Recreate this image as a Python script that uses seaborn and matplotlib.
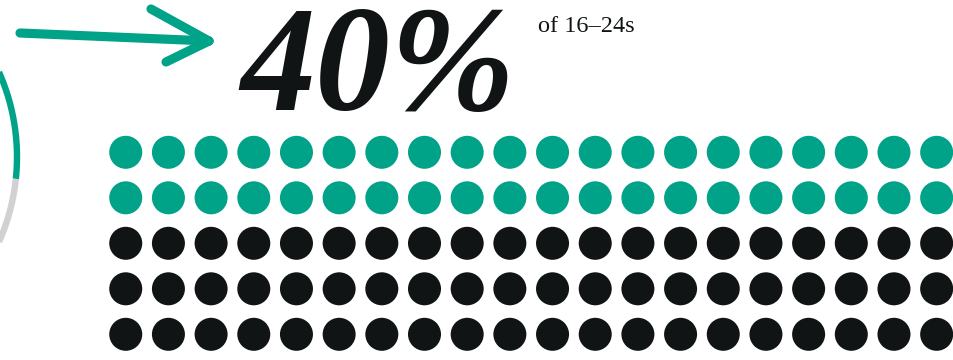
import numpy as np
import pandas as pd
import matplotlib
matplotlib.use("Agg")
import matplotlib.pyplot as plt
import seaborn as sns

# data
big_label = "40%"
sub_label = "of 16–24s"
groups = ["yes", "no"]
counts = [40, 60]
n_cols = 20
n_rows = 5
colors = {"yes": "#00a388", "no": "#111415"}
ring_colors = ["#00a388", "#d1d1d3"]

# waffle cells, filled row by row
cat = []
for g, c in zip(groups, counts):
    cat += [g] * c
df = pd.DataFrame({
    "col": [i % n_cols for i in range(len(cat))],
    "row": [i // n_cols for i in range(len(cat))],
    "group": cat,
})

sns.set_style("white")
fig = plt.figure(figsize=(9.54, 3.6), dpi=100)

# waffle axes
ax = fig.add_axes([104.4 / 954, 2.95 / 360, 853.6 / 954, 227.5 / 360])
sns.scatterplot(data=df, x="col", y="row", hue="group", palette=colors,
                s=565, linewidth=0, legend=False, ax=ax)
ax.set_xlim(-0.5, n_cols - 0.5)
ax.set_ylim(n_rows - 0.5, -0.5)
ax.axis("off")

# overlay in pixel coords for the decorations
ov = fig.add_axes([0, 0, 1, 1], zorder=-1)
ov.set_xlim(0, 954)
ov.set_ylim(360, 0)
ov.axis("off")

# ring segment on the left
cx, cy, R = -192, 157, 209
t1 = np.radians(np.linspace(-6, 70, 200))
t2 = np.radians(np.linspace(-70, -6, 200))
ov.plot(cx + R * np.cos(t1), cy - R * np.sin(t1), color=ring_colors[0], lw=4.6, solid_capstyle="butt")
ov.plot(cx + R * np.cos(t2), cy - R * np.sin(t2), color=ring_colors[1], lw=4.6, solid_capstyle="butt")

# arrow
arrow_kw = dict(color="#00a388", lw=6.6, solid_capstyle="round")
ov.plot([20, 209], [33, 41], **arrow_kw)
ov.plot([151, 209], [9, 41], **arrow_kw)
ov.plot([166, 209], [62, 41], **arrow_kw)

# text
ov.text(240, 110, big_label, fontsize=108, fontweight="bold", fontstyle="italic",
        family=["Liberation Serif", "DejaVu Serif"], color="#111415",
        ha="left", va="baseline")
ov.text(538, 32, sub_label, fontsize=17.5, family=["Liberation Serif", "DejaVu Serif"],
        color="#111415", ha="left", va="baseline")

fig.savefig("out.png", dpi=100)
